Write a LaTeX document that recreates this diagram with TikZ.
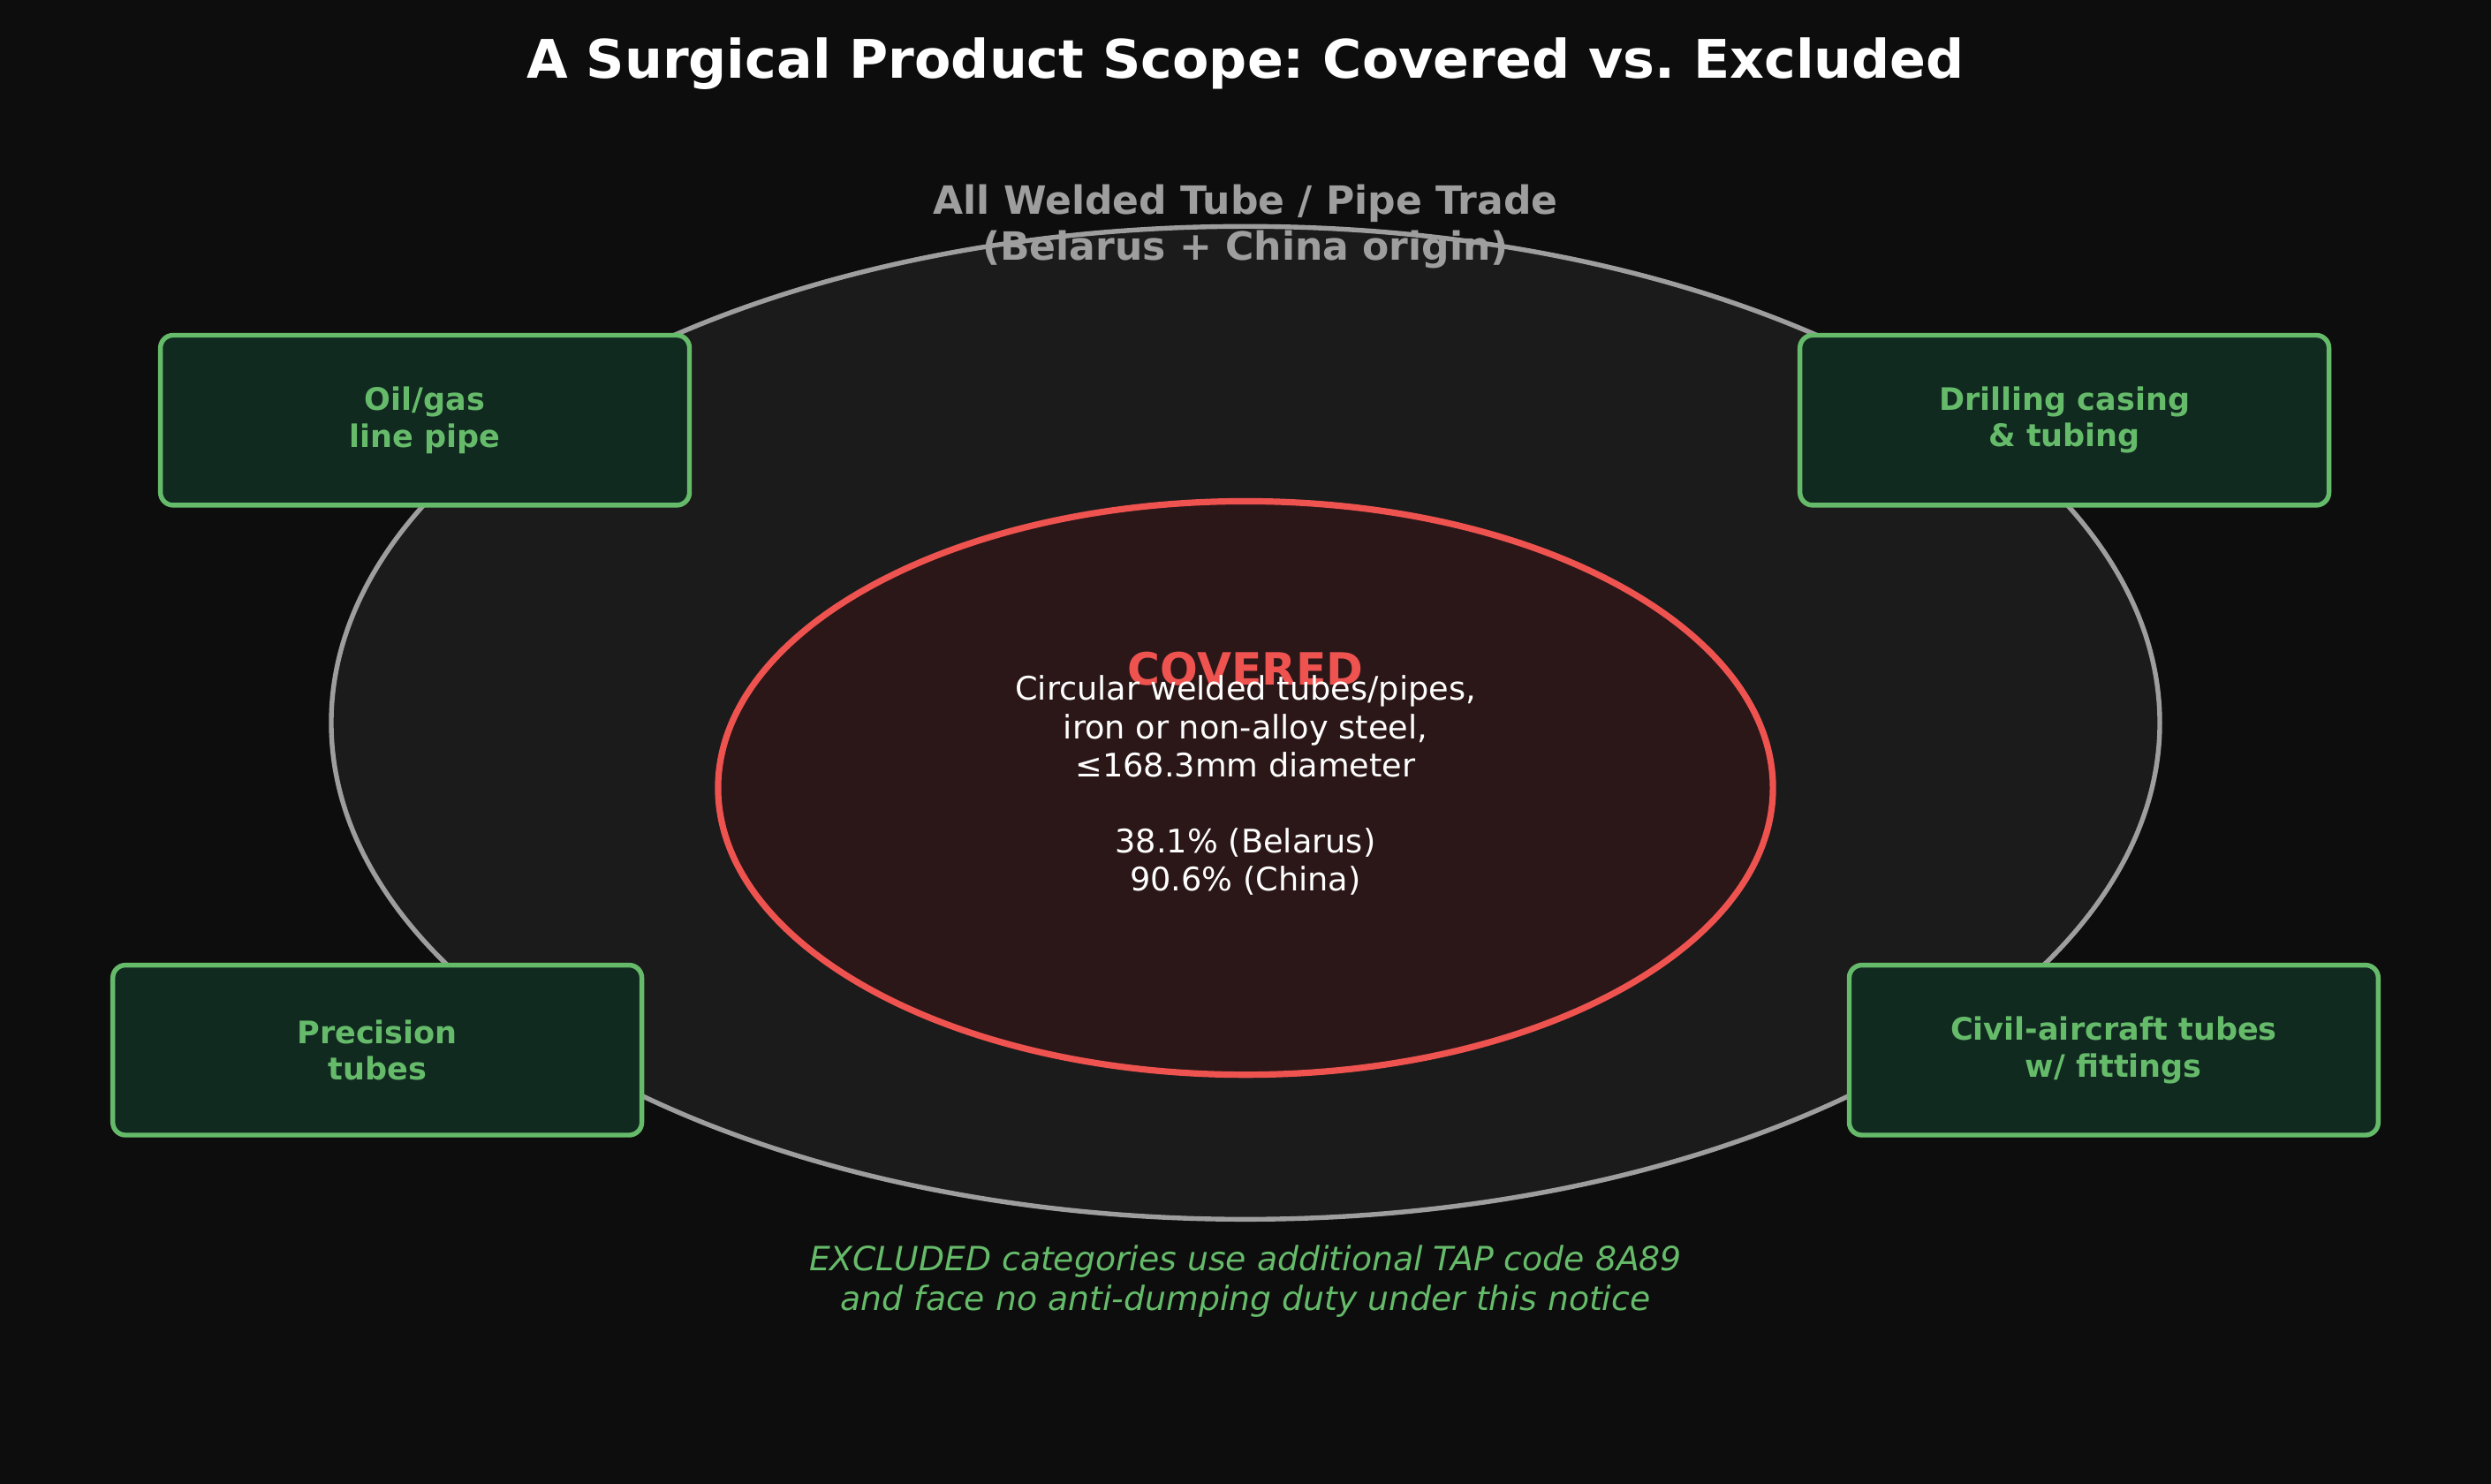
\documentclass[tikz,border=0pt]{standalone}
\usepackage{fontspec}
\setmainfont{DejaVu Sans}
\frenchspacing
\usetikzlibrary{shapes.geometric}
\definecolor{bgdark}{HTML}{0D0D0D}
\definecolor{tradefill}{HTML}{1B1B1B}
\definecolor{tradegray}{HTML}{9E9E9E}
\definecolor{covred}{HTML}{EF5350}
\definecolor{covfill}{HTML}{2C1718}
\definecolor{exgreen}{HTML}{66BB6A}
\definecolor{exfill}{HTML}{102A20}
\tikzset{
  excluded/.style={draw=exgreen,fill=exfill,line width=3pt,rounded corners=8pt,
    minimum width=333pt,minimum height=107pt,text=exgreen,align=center,
    font=\bfseries\fontsize{19.5}{23}\selectfont},
  bigring/.style={ellipse,inner sep=0pt}
}
\begin{document}
\begin{tikzpicture}[x=1pt,y=-1pt]
\fill[bgdark] (0,0) rectangle (1568,934);
\useasboundingbox (0,0) rectangle (1568,934);
\node[white,font=\bfseries\fontsize{33.5}{40}\selectfont] (title) at (784,40)
  {A Surgical Product Scope: Covered vs. Excluded};
%
% todo el comercio
\node[bigring,draw=tradegray,fill=tradefill,line width=3pt,
  minimum width=1151pt,minimum height=625pt] (trade) at (784,455) {};
\node[text=tradegray,align=center,font=\bfseries\fontsize{24.5}{29}\selectfont]
  (tradelabel) at (784,142.5) {All Welded Tube / Pipe Trade\\(Belarus + China origin)};
%
% excluidos
\node[excluded] (oilgas) at (267.5,264.5) {Oil/gas\\line pipe};
\node[excluded] (drilling) at (1299.5,264.5) {Drilling casing\\\& tubing};
\node[excluded] (precision) at (237.5,661) {Precision\\tubes};
\node[excluded] (aircraft) at (1330.5,661) {Civil-aircraft tubes\\w/ fittings};
%
% cubiertos
\node[bigring,draw=covred,fill=covfill,line width=4pt,
  minimum width=664pt,minimum height=361pt] (covered) at (784,496) {};
\node[text=covred,font=\bfseries\fontsize{28}{33}\selectfont] (coveredlabel) at (784,421) {COVERED};
\node[white,align=center,font=\fontsize{20.4}{24}\selectfont] (coveredtext) at (784,494.5)
  {Circular welded tubes/pipes,\\iron or non-alloy steel,\\≤168.3mm diameter\\[24pt]
   38.1\% (Belarus)\\90.6\% (China)};
%
\node[text=exgreen,align=center,font=\itshape\fontsize{21}{25}\selectfont] (note) at (784,806.5)
  {EXCLUDED categories use additional TAP code 8A89\\and face no anti-dumping duty under this notice};
\end{tikzpicture}
\end{document}
